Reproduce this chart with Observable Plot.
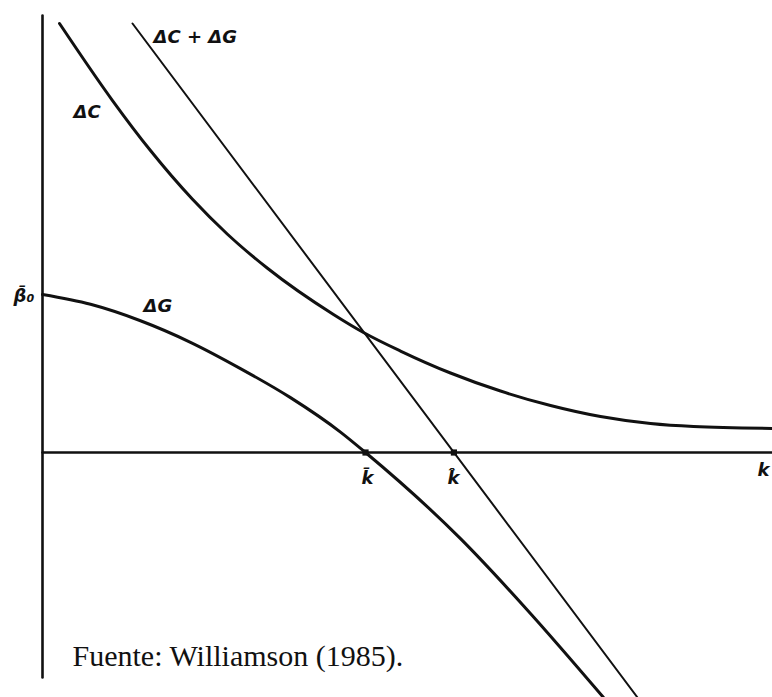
<!DOCTYPE html>
<html>
<head>
<meta charset="utf-8">
<script src="https://cdn.jsdelivr.net/npm/d3@7"></script>
<script src="https://cdn.jsdelivr.net/npm/@observablehq/plot@0.6"></script>
<style>
  html, body { margin: 0; padding: 0; background: #fff; }
  svg { display: block; }
</style>
</head>
<body>
<div id="chart"></div>
<script>
// ΔC curve (k, value)
const costK = [0.233, 0.959, 1.479, 2.055, 2.534, 3.082, 3.986, 4.397, 4.904, 5.589, 6.274, 6.959, 7.644, 8.329, 8.918, 10];
const costV = [5.877, 4.822, 4.137, 3.469, 2.99, 2.524, 1.891, 1.644, 1.39, 1.089, 0.842, 0.643, 0.492, 0.396, 0.355, 0.33];

// ΔG curve
const govK = [0, 0.658, 1.342, 2.027, 2.712, 3.397, 4.082, 4.425, 5.726, 6.644, 7.685];
const govV = [2.164, 2.03, 1.805, 1.51, 1.15, 0.752, 0.28, 0, -1.18, -2.16, -3.356];

// ΔC + ΔG (straight line)
const sumK = [1.233, 8.151];
const sumV = [5.877, -3.356];

// crossings with the k axis: k̄ (ΔG = 0) and k̂ (ΔC + ΔG = 0)
const crossK = [4.425, 5.636];

// axes extents
const axisK = [0, 10];
const axisV = [5.986, -3.082];

// labels (left edge, middle)
const labelText = ["ΔC + ΔG", "ΔC", "ΔG", "β̄₀", "k̄", "k̂", "k"];
const labelK = [1.521, 0.425, 1.384, -0.397, 4.37, 5.548, 9.795];
const labelV = [5.685, 4.658, 2.0, 2.137, -0.356, -0.356, -0.247];

const caption = "Fuente: Williamson (1985).";

const zip = (ks, vs) => ks.map((k, i) => ({k, v: vs[i]}));
const labels = labelText.map((t, i) => ({t, k: labelK[i], v: labelV[i]}));

const chart = Plot.plot({
  width: 772,
  height: 697,
  marginLeft: 42,
  marginRight: 0,
  marginTop: 0,
  marginBottom: 0,
  x: {domain: [0, 10], axis: null},
  y: {domain: [-3.356, 6.192], axis: null},
  style: {background: "#fff", fontFamily: "DejaVu Sans, sans-serif"},
  marks: [
    // k axis
    Plot.line(zip(axisK, [0, 0]), {x: "k", y: "v", stroke: "#111", strokeWidth: 2.6}),
    // vertical axis
    Plot.line(zip([0, 0], axisV), {x: "k", y: "v", stroke: "#111", strokeWidth: 2.6}),
    // ΔC
    Plot.line(zip(costK, costV), {x: "k", y: "v", stroke: "#111", strokeWidth: 3, curve: "monotone-x"}),
    // ΔG
    Plot.line(zip(govK, govV), {x: "k", y: "v", stroke: "#111", strokeWidth: 3, curve: "monotone-x"}),
    // ΔC + ΔG
    Plot.line(zip(sumK, sumV), {x: "k", y: "v", stroke: "#111", strokeWidth: 2}),
    // crossing marks
    Plot.dot(crossK.map(k => ({k, v: 0})), {x: "k", y: "v", r: 3.5, fill: "#111", symbol: "square"}),
    // labels
    Plot.text(labels, {
      x: "k", y: "v", text: "t", textAnchor: "start",
      fontSize: 18, fontStyle: "italic", fontWeight: 600, fill: "#111"
    }),
    // caption
    Plot.text([caption], {
      x: () => 0.411, y: () => -2.79, textAnchor: "start",
      fontSize: 30, fontFamily: "Liberation Serif, serif", fill: "#111"
    })
  ]
});

document.getElementById("chart").appendChild(chart);
</script>
</body>
</html>
